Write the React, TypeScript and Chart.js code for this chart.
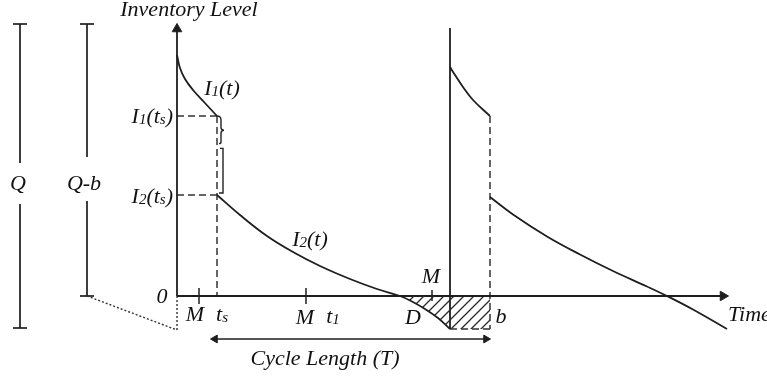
import { useEffect, useRef } from 'react';
import { Chart, registerables } from 'chart.js';
Chart.register(...registerables);

// Scale ranges (time on x, inventory level on y), arbitrary units
const X_MIN = -17.7, X_MAX = 59.0, Y_MIN = -8.3, Y_MAX = 29.6;

// Key time points
const tM1 = 2.2, tS = 4.0, tM2 = 12.9, tM3 = 25.5, tT = 27.3, tB = 31.3, tAxisEnd = 54.6;
// Key levels
const levelI1ts = 18.0, levelI2ts = 10.1, levelB = -3.3, levelAxisTop = 26.7, levelCycle2Top = 26.8, levelBelow = -3.4;
// Left brackets (Q and Q-b)
const tQ = -15.7, tQb = -9.0, barTop = 27.2, qBreakHi = 13.3, qBreakLo = 9.2, qBottom = -3.2, qbBreakHi = 13.9, qbBreakLo = 9.5;
// Cycle length arrow
const tCycleStart = 3.8, tCycleEnd = 30.9, levelCycleArrow = -4.3;

// Curves
const i1Cycle1T = [0, 0.3, 0.8, 1.6, 2.7, 4.0];
const i1Cycle1L = [24.1, 22.8, 21.7, 20.6, 19.4, 18.0];
const i2Cycle1T = [4.0, 6.3, 9.0, 11.6, 14.3, 17.3, 20.0, 22.3, 23.5, 24.8, 26.1, 27.3];
const i2Cycle1L = [10.1, 8.1, 6.0, 4.4, 3.0, 1.7, 0.7, 0.0, -0.55, -1.3, -2.2, -3.3];
const i1Cycle2T = [27.3, 27.8, 28.6, 29.6, 31.3];
const i1Cycle2L = [22.9, 22.1, 20.9, 19.6, 18.0];
const i2Cycle2T = [31.3, 33.6, 37.0, 40.3, 43.6, 47.0, 49.0, 51.6, 55.0];
const i2Cycle2L = [9.9, 8.15, 5.95, 4.15, 2.5, 0.95, 0.0, -1.35, -3.3];

// Text labels ("_" marks a subscript character)
const labelTexts = ['Inventory Level', 'Time', '0', 'M', 't_s', 'M', 't_1', 'D', 'M', 'b', 'Cycle Length (T)', 'I_1(t)', 'I_2(t)', 'I_1(t_s)', 'I_2(t_s)', 'Q', 'Q-b'];
const labelT = [1.2, 55.1, -1.5, 1.8, 4.5, 12.8, 15.6, 23.6, 25.4, 32.4, 14.8, 4.5, 13.3, -0.4, -0.4, -15.9, -9.3];
const labelL = [28.6, -1.9, -0.1, -1.9, -1.9, -2.2, -2.1, -2.2, 1.9, -2.1, -6.3, 20.7, 5.6, 17.9, 9.9, 11.2, 11.2];
const labelAlign = ['center', 'left', 'center', 'center', 'center', 'center', 'center', 'center', 'center', 'center', 'center', 'center', 'center', 'right', 'right', 'center', 'center'];

const INK = '#1e1e1e';
const FONT = '"Liberation Serif", "DejaVu Serif", serif';

const pts = (xs: number[], ys: number[]) => xs.map((x, i) => ({ x, y: ys[i] }));

function line(data: { x: number; y: number }[], extra: any = {}) {
  return {
    data,
    showLine: true,
    borderColor: INK,
    borderWidth: 1.7,
    pointRadius: 0,
    pointHoverRadius: 0,
    fill: false,
    ...extra,
  };
}

function parseRich(s: string) {
  const out: { t: string; sub: boolean }[] = [];
  for (let i = 0; i < s.length; i++) {
    if (s[i] === '_' && i + 1 < s.length) {
      out.push({ t: s[i + 1], sub: true });
      i++;
    } else {
      const last = out[out.length - 1];
      if (last && !last.sub) last.t += s[i];
      else out.push({ t: s[i], sub: false });
    }
  }
  return out;
}

const labelsPlugin = {
  id: 'diagramLabels',
  afterDatasetsDraw(chart: any) {
    const { ctx, scales } = chart;
    const xs = scales.x, ys = scales.y;
    ctx.save();
    ctx.fillStyle = '#111';
    ctx.textBaseline = 'middle';
    const mainFont = `italic 22px ${FONT}`;
    const subFont = `italic 15px ${FONT}`;
    labelTexts.forEach((txt, i) => {
      const parts = parseRich(txt);
      let w = 0;
      parts.forEach((p) => {
        ctx.font = p.sub ? subFont : mainFont;
        w += ctx.measureText(p.t).width;
      });
      const px = xs.getPixelForValue(labelT[i]);
      const py = ys.getPixelForValue(labelL[i]);
      let x = labelAlign[i] === 'center' ? px - w / 2 : labelAlign[i] === 'right' ? px - w : px;
      ctx.textAlign = 'left';
      parts.forEach((p) => {
        ctx.font = p.sub ? subFont : mainFont;
        ctx.fillText(p.t, x, p.sub ? py + 3 : py);
        x += ctx.measureText(p.t).width;
      });
    });

    // brace between I1(ts) and I2(ts)
    const bx = xs.getPixelForValue(tS);
    const yTop = ys.getPixelForValue(levelI1ts);
    const yBot = ys.getPixelForValue(levelI2ts);
    const h = yBot - yTop;
    ctx.strokeStyle = '#222';
    ctx.lineWidth = 1.4;
    ctx.beginPath();
    ctx.moveTo(bx, yTop);
    ctx.quadraticCurveTo(bx + 4, yTop, bx + 4, yTop + 4);
    ctx.lineTo(bx + 4, yTop + h * 0.15);
    ctx.quadraticCurveTo(bx + 4, yTop + h * 0.18, bx + 7, yTop + h * 0.18);
    ctx.quadraticCurveTo(bx + 4, yTop + h * 0.18, bx + 4, yTop + h * 0.22);
    ctx.lineTo(bx + 4, yTop + h * 0.33);
    ctx.quadraticCurveTo(bx + 4, yTop + h * 0.35, bx + 2, yTop + h * 0.35);
    ctx.stroke();
    ctx.beginPath();
    ctx.moveTo(bx + 3, yTop + h * 0.41);
    ctx.lineTo(bx + 6, yTop + h * 0.41);
    ctx.lineTo(bx + 6, yBot - 2);
    ctx.lineTo(bx + 2, yBot - 2);
    ctx.stroke();
    ctx.restore();
  },
};

export default function App() {
  const ref = useRef<HTMLCanvasElement>(null);
  useEffect(() => {
    const canvas = ref.current!;
    const tile = document.createElement('canvas');
    tile.width = 10;
    tile.height = 10;
    const tctx = tile.getContext('2d')!;
    tctx.strokeStyle = '#2a2a2a';
    tctx.lineWidth = 1.3;
    tctx.beginPath();
    tctx.moveTo(-1, 11);
    tctx.lineTo(11, -1);
    tctx.moveTo(-1, 1);
    tctx.lineTo(1, -1);
    tctx.moveTo(9, 11);
    tctx.lineTo(11, 9);
    tctx.stroke();
    const pattern = canvas.getContext('2d')!.createPattern(tile, 'repeat')!;

    const dashed = { borderDash: [7, 4], borderWidth: 1.5, borderColor: '#333' };
    const dotted = { borderDash: [2, 2], borderWidth: 1.4, borderColor: '#333' };
    const arrow = (rot: number[], radius: number[]) => ({
      pointRadius: radius,
      pointStyle: 'triangle',
      pointRotation: rot,
      pointBackgroundColor: INK,
      pointBorderColor: INK,
      pointBorderWidth: 1,
    });
    const curve = { tension: 0.4, borderWidth: 1.8 };

    const datasets: any[] = [
      // curves
      line(pts(i1Cycle1T, i1Cycle1L), curve),
      line(pts(i2Cycle1T, i2Cycle1L), { ...curve, fill: { target: 'origin', above: 'rgba(0,0,0,0)', below: pattern } }),
      line(pts(i1Cycle2T, i1Cycle2L), curve),
      line(pts(i2Cycle2T, i2Cycle2L), curve),
      // axes
      line([{ x: 0, y: 0 }, { x: 0, y: levelAxisTop }], { borderWidth: 1.8, ...arrow([0, 0], [0, 5.5]) }),
      line([{ x: 0, y: 0 }, { x: tAxisEnd, y: 0 }], { borderWidth: 1.8, ...arrow([0, 90], [0, 5.5]) }),
      line([{ x: 0, y: 0 }, { x: 0, y: levelBelow }], dotted),
      line([{ x: tQb, y: 0 }, { x: 0, y: levelBelow }], dotted),
      // dashed guides
      line([{ x: 0, y: levelI1ts }, { x: tS, y: levelI1ts }], dashed),
      line([{ x: 0, y: levelI2ts }, { x: tS, y: levelI2ts }], dashed),
      line([{ x: tS, y: levelI1ts }, { x: tS, y: 0 }], dashed),
      line([{ x: tB, y: levelI1ts }, { x: tB, y: levelB }], dashed),
      line([{ x: tT, y: levelB }, { x: tB, y: levelB }], { ...dashed, fill: { target: 'origin', above: 'rgba(0,0,0,0)', below: pattern } }),
      // second cycle replenishment
      line([{ x: tT, y: levelB }, { x: tT, y: levelCycle2Top }], { borderWidth: 1.8 }),
      // M ticks
      line([{ x: tM1, y: -0.8 }, { x: tM1, y: 0.8 }], { borderWidth: 1.5 }),
      line([{ x: tM2, y: -0.8 }, { x: tM2, y: 0.8 }], { borderWidth: 1.5 }),
      line([{ x: tM3, y: -0.5 }, { x: tM3, y: 0.6 }], { borderWidth: 1.5 }),
      // Q bracket
      line([{ x: tQ, y: barTop }, { x: tQ, y: qBreakHi }]),
      line([{ x: tQ, y: qBreakLo }, { x: tQ, y: qBottom }]),
      line([{ x: tQ - 0.7, y: barTop }, { x: tQ + 0.7, y: barTop }]),
      line([{ x: tQ - 0.7, y: qBottom }, { x: tQ + 0.7, y: qBottom }]),
      // Q-b bracket
      line([{ x: tQb, y: barTop }, { x: tQb, y: qbBreakHi }]),
      line([{ x: tQb, y: qbBreakLo }, { x: tQb, y: 0 }]),
      line([{ x: tQb - 0.7, y: barTop }, { x: tQb + 0.7, y: barTop }]),
      line([{ x: tQb - 0.7, y: 0 }, { x: tQb + 0.7, y: 0 }]),
      // cycle length double arrow
      line([{ x: tCycleStart, y: levelCycleArrow }, { x: tCycleEnd, y: levelCycleArrow }], { borderWidth: 1.6, ...arrow([270, 90], [4.5, 4.5]) }),
    ];

    const chart = new Chart(canvas, {
      type: 'scatter',
      data: { datasets },
      options: {
        animation: false,
        responsive: false,
        devicePixelRatio: 1,
        layout: { padding: 0, autoPadding: false },
        events: [],
        plugins: { legend: { display: false }, tooltip: { enabled: false } },
        scales: {
          x: { type: 'linear', display: false, min: X_MIN, max: X_MAX },
          y: { type: 'linear', display: false, min: Y_MIN, max: Y_MAX },
        },
      } as any,
      plugins: [labelsPlugin],
    });
    return () => chart.destroy();
  }, []);

  return (
    <div style={{ position: 'fixed', left: 0, top: 0, width: 767, height: 379, background: '#fff' }}>
      <canvas ref={ref} width={767} height={379} style={{ display: 'block' }} />
    </div>
  );
}
